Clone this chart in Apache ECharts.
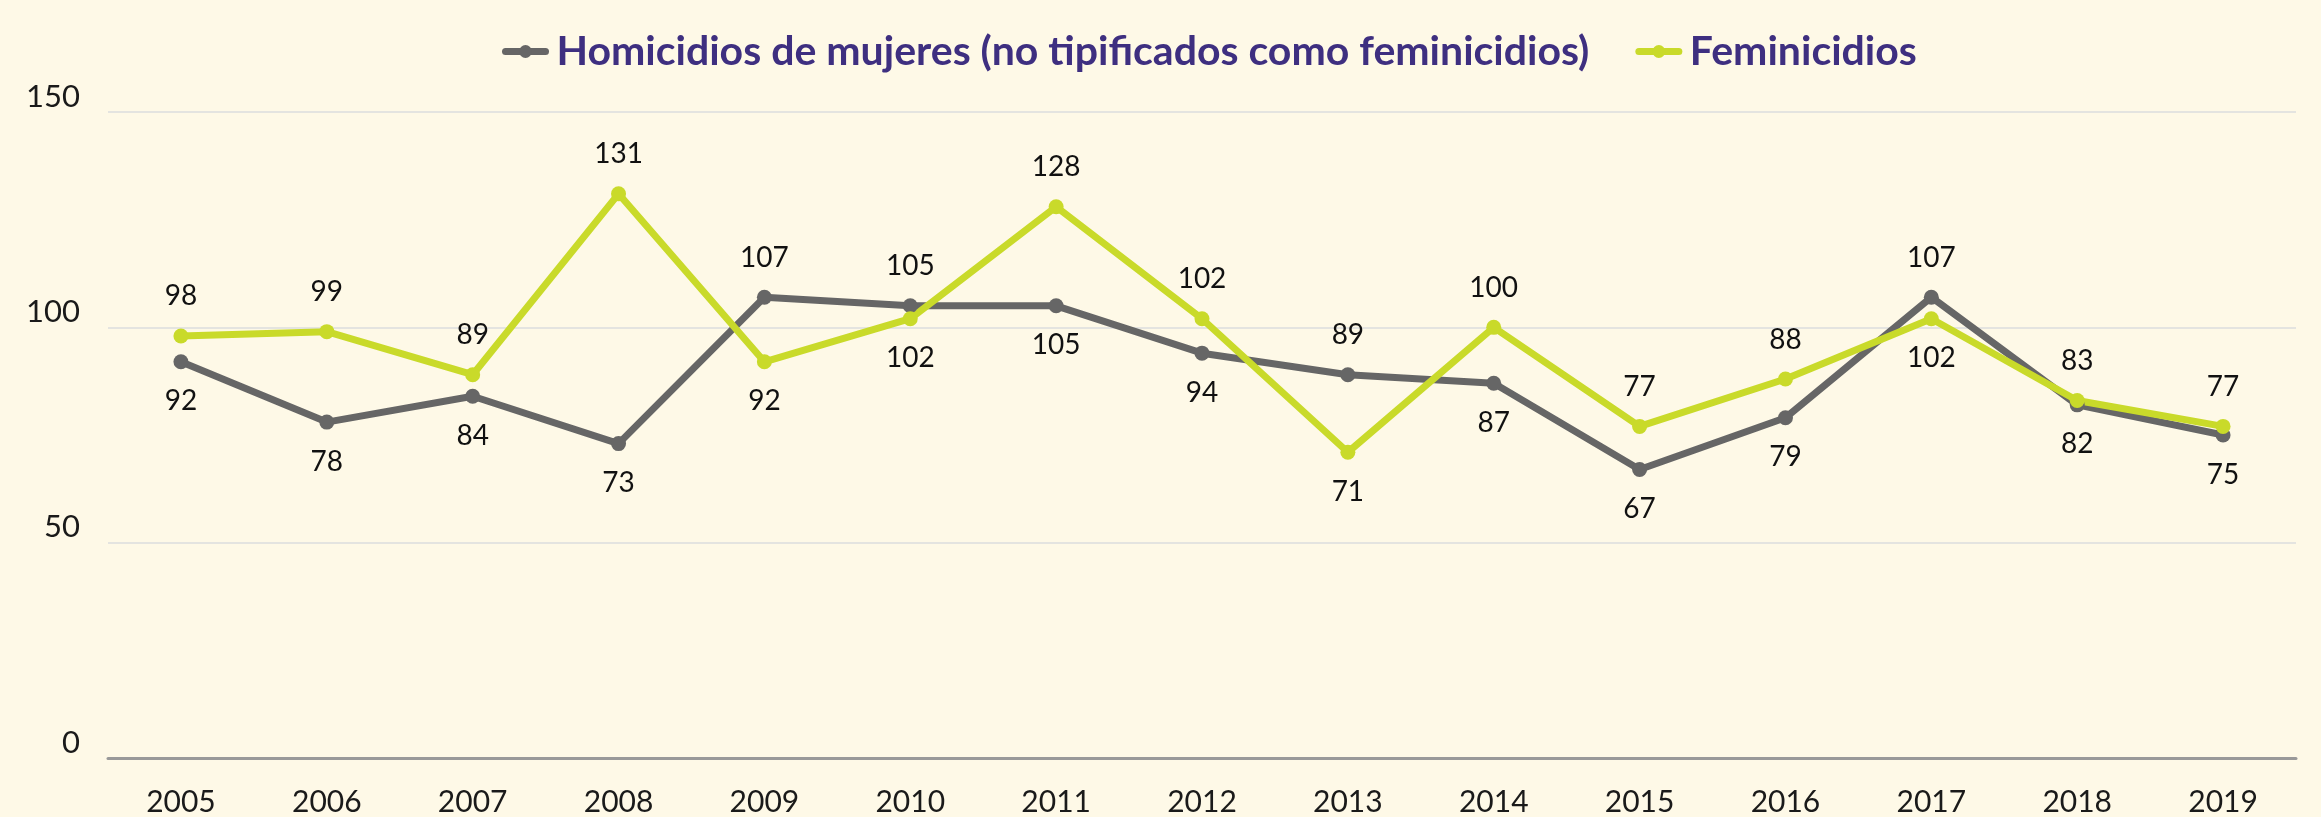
<!DOCTYPE html>
<html>
<head>
<meta charset="utf-8">
<script src="https://cdn.jsdelivr.net/npm/echarts@6/dist/echarts.min.js"></script>
<style>
  html, body { margin: 0; padding: 0; background: #fef9e7; }
  #chart { width: 2321px; height: 817px; }
</style>
</head>
<body>
<div id="chart"></div>
<script>
// años
const years = ['2005', '2006', '2007', '2008', '2009', '2010', '2011', '2012', '2013', '2014', '2015', '2016', '2017', '2018', '2019'];
const homicidios = [92, 78, 84, 73, 107, 105, 105, 94, 89, 87, 67, 79, 107, 82, 75];
const feminicidios = [98, 99, 89, 131, 92, 102, 128, 102, 71, 100, 77, 88, 102, 83, 77];
// posición de la etiqueta: arriba la serie mayor, abajo la menor
const homicidiosPos = ['bottom', 'bottom', 'bottom', 'bottom', 'top', 'top', 'bottom', 'bottom', 'top', 'bottom', 'bottom', 'bottom', 'top', 'bottom', 'bottom'];
const feminicidiosPos = ['top', 'top', 'top', 'top', 'bottom', 'bottom', 'top', 'top', 'bottom', 'top', 'top', 'top', 'bottom', 'top', 'top'];
const yTicks = [0, 50, 100, 150];

const chart = echarts.init(document.getElementById('chart'));

function withLabels(values, positions) {
    return values.map((v, i) => ({
        value: v,
        label: { position: positions[i] }
    }));
}

const lineFont = 'Lato, "Open Sans", sans-serif';

chart.setOption({
    backgroundColor: '#fef9e7',
    animation: false,
    legend: {
        top: 26,
        left: 497,
        itemWidth: 40,
        itemHeight: 16,
        itemGap: 46,
        lineStyle: { width: 7, cap: 'round' },
        textStyle: {
            fontFamily: lineFont,
            fontWeight: 'bold',
            fontSize: 41,
            color: '#3e2f80',
            padding: [0, 0, 0, 6]
        },
        data: ['Homicidios de mujeres (no tipificados como feminicidios)', 'Feminicidios']
    },
    grid: {
        left: 108,
        right: 25,
        top: 112,
        bottom: 57
    },
    xAxis: {
        type: 'category',
        data: years,
        boundaryGap: true,
        axisLine: { lineStyle: { color: '#999999', width: 3 } },
        axisTick: { show: false },
        axisLabel: {
            margin: 29,
            fontFamily: lineFont,
            fontSize: 30,
            color: '#1a1a1a'
        }
    },
    yAxis: {
        type: 'value',
        min: yTicks[0],
        max: yTicks[yTicks.length - 1],
        interval: 50,
        axisLine: { show: false },
        axisTick: { show: false },
        splitLine: { lineStyle: { color: '#e4e4e0', width: 2 } },
        axisLabel: {
            margin: 28,
            verticalAlign: 'bottom',
            fontFamily: lineFont,
            fontSize: 31,
            color: '#1a1a1a'
        }
    },
    series: [
        {
            name: 'Homicidios de mujeres (no tipificados como feminicidios)',
            type: 'line',
            data: withLabels(homicidios, homicidiosPos),
            symbol: 'circle',
            symbolSize: 15,
            lineStyle: { color: '#666666', width: 7 },
            itemStyle: { color: '#666666' },
            label: {
                show: true,
                distance: 18,
                fontFamily: lineFont,
                fontSize: 28,
                color: '#111111'
            }
        },
        {
            name: 'Feminicidios',
            type: 'line',
            data: withLabels(feminicidios, feminicidiosPos),
            symbol: 'circle',
            symbolSize: 15,
            lineStyle: { color: '#c9da2a', width: 7 },
            itemStyle: { color: '#c9da2a' },
            label: {
                show: true,
                distance: 18,
                fontFamily: lineFont,
                fontSize: 28,
                color: '#111111'
            }
        }
    ]
});
</script>
</body>
</html>
